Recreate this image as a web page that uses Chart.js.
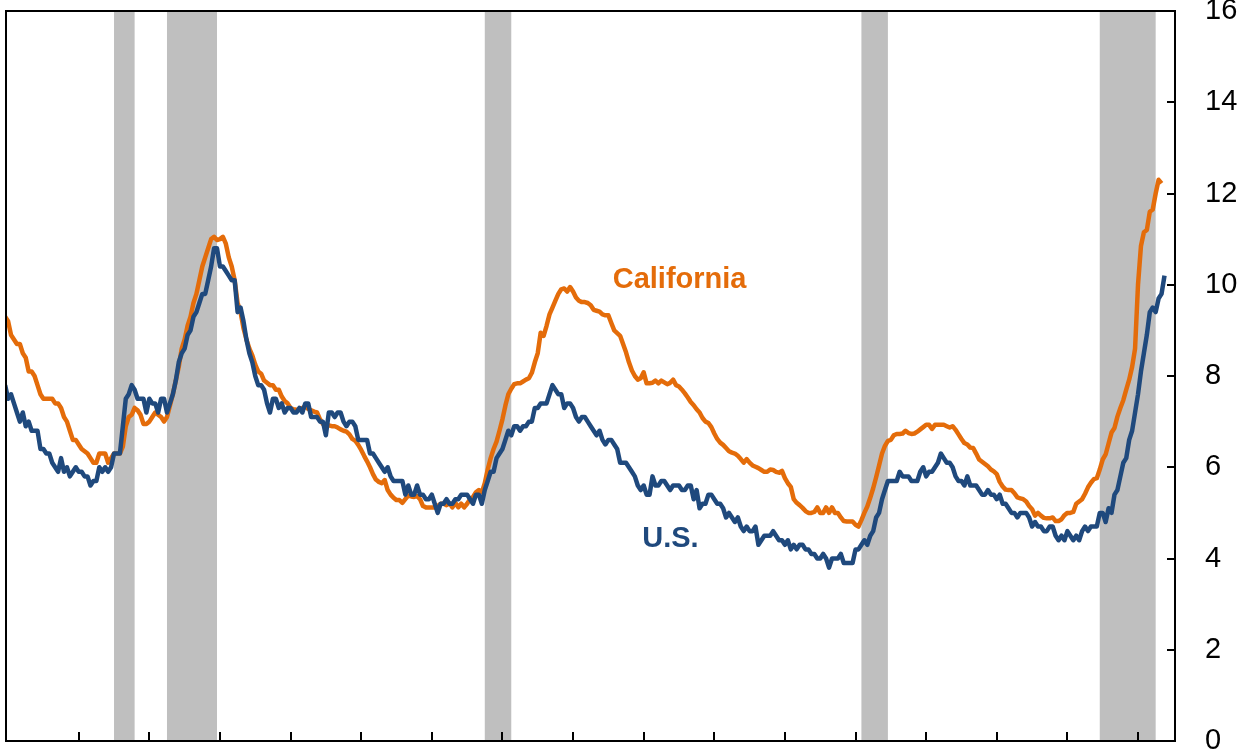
<!DOCTYPE html>
<html>
<head>
<meta charset="utf-8">
<script src="https://cdn.jsdelivr.net/npm/chart.js@4.4.1/dist/chart.umd.min.js"></script>
<style>
  html, body { margin: 0; padding: 0; background: #fff; }
</style>
</head>
<body>
<canvas id="chart" width="1241" height="750"></canvas>
<script>
"use strict";

//---------------- data -----------------------------------------------
// monthly unemployment rate, %, first value is Dec 1976
const firstMonth = "1976-12";

const usRate = [
  7.8,
  7.5, 7.6, 7.4, 7.2, 7.0, 7.2, 6.9, 7.0, 6.8, 6.8, 6.8, 6.4, // 1977
  6.4, 6.3, 6.3, 6.1, 6.0, 5.9, 6.2, 5.9, 6.0, 5.8, 5.9, 6.0, // 1978
  5.9, 5.9, 5.8, 5.8, 5.6, 5.7, 5.7, 6.0, 5.9, 6.0, 5.9, 6.0, // 1979
  6.3, 6.3, 6.3, 6.9, 7.5, 7.6, 7.8, 7.7, 7.5, 7.5, 7.5, 7.2, // 1980
  7.5, 7.4, 7.4, 7.2, 7.5, 7.5, 7.2, 7.4, 7.6, 7.9, 8.3, 8.5, // 1981
  8.6, 8.9, 9.0, 9.3, 9.4, 9.6, 9.8, 9.8, 10.1, 10.4, 10.8, 10.8, // 1982
  10.4, 10.4, 10.3, 10.2, 10.1, 10.1, 9.4, 9.5, 9.2, 8.8, 8.5, 8.3, // 1983
  8.0, 7.8, 7.8, 7.7, 7.4, 7.2, 7.5, 7.5, 7.3, 7.4, 7.2, 7.3, // 1984
  7.3, 7.2, 7.2, 7.3, 7.2, 7.4, 7.4, 7.1, 7.1, 7.1, 7.0, 7.0, // 1985
  6.7, 7.2, 7.2, 7.1, 7.2, 7.2, 7.0, 6.9, 7.0, 7.0, 6.9, 6.6, // 1986
  6.6, 6.6, 6.6, 6.3, 6.3, 6.2, 6.1, 6.0, 5.9, 6.0, 5.8, 5.7, // 1987
  5.7, 5.7, 5.7, 5.4, 5.6, 5.4, 5.4, 5.6, 5.4, 5.4, 5.3, 5.3, // 1988
  5.4, 5.2, 5.0, 5.2, 5.2, 5.3, 5.2, 5.2, 5.3, 5.3, 5.4, 5.4, // 1989
  5.4, 5.3, 5.2, 5.4, 5.4, 5.2, 5.5, 5.7, 5.9, 5.9, 6.2, 6.3, // 1990
  6.4, 6.6, 6.8, 6.7, 6.9, 6.9, 6.8, 6.9, 6.9, 7.0, 7.0, 7.3, // 1991
  7.3, 7.4, 7.4, 7.4, 7.6, 7.8, 7.7, 7.6, 7.6, 7.3, 7.4, 7.4, // 1992
  7.3, 7.1, 7.0, 7.1, 7.1, 7.0, 6.9, 6.8, 6.7, 6.8, 6.6, 6.5, // 1993
  6.6, 6.6, 6.5, 6.4, 6.1, 6.1, 6.1, 6.0, 5.9, 5.8, 5.6, 5.5, // 1994
  5.6, 5.4, 5.4, 5.8, 5.6, 5.6, 5.7, 5.7, 5.6, 5.5, 5.6, 5.6, // 1995
  5.6, 5.5, 5.5, 5.6, 5.6, 5.3, 5.5, 5.1, 5.2, 5.2, 5.4, 5.4, // 1996
  5.3, 5.2, 5.2, 5.1, 4.9, 5.0, 4.9, 4.8, 4.9, 4.7, 4.6, 4.7, // 1997
  4.6, 4.6, 4.7, 4.3, 4.4, 4.5, 4.5, 4.5, 4.6, 4.5, 4.4, 4.4, // 1998
  4.3, 4.4, 4.2, 4.3, 4.2, 4.3, 4.3, 4.2, 4.2, 4.1, 4.1, 4.0, // 1999
  4.0, 4.1, 4.0, 3.8, 4.0, 4.0, 4.0, 4.1, 3.9, 3.9, 3.9, 3.9, // 2000
  4.2, 4.2, 4.3, 4.4, 4.3, 4.5, 4.6, 4.9, 5.0, 5.3, 5.5, 5.7, // 2001
  5.7, 5.7, 5.7, 5.9, 5.8, 5.8, 5.8, 5.7, 5.7, 5.7, 5.9, 6.0, // 2002
  5.8, 5.9, 5.9, 6.0, 6.1, 6.3, 6.2, 6.1, 6.1, 6.0, 5.8, 5.7, // 2003
  5.7, 5.6, 5.8, 5.6, 5.6, 5.6, 5.5, 5.4, 5.4, 5.5, 5.4, 5.4, // 2004
  5.3, 5.4, 5.2, 5.2, 5.1, 5.0, 5.0, 4.9, 5.0, 5.0, 5.0, 4.9, // 2005
  4.7, 4.8, 4.7, 4.7, 4.6, 4.6, 4.7, 4.7, 4.5, 4.4, 4.5, 4.4, // 2006
  4.6, 4.5, 4.4, 4.5, 4.4, 4.6, 4.7, 4.6, 4.7, 4.7, 4.7, 5.0, // 2007
  5.0, 4.8, 5.1, 5.0, 5.4, 5.5, 5.8, 6.1, 6.2, 6.6, 6.8, 7.2, // 2008
  7.6, 8.1, 8.5, 8.9, 9.4, 9.5, 9.4, 9.7, 9.8, 10.2            // 2009
];

const caRate = [
  9.3,
  9.2, 8.9, 8.8, 8.7, 8.7, 8.5, 8.4, 8.1, 8.1, 8.0, 7.8, 7.6, // 1977
  7.5, 7.5, 7.5, 7.5, 7.4, 7.4, 7.3, 7.1, 7.0, 6.8, 6.6, 6.6, // 1978
  6.5, 6.4, 6.35, 6.3, 6.2, 6.1, 6.1, 6.3, 6.3, 6.3, 6.1, 6.2, // 1979
  6.3, 6.3, 6.3, 6.45, 6.9, 7.1, 7.15, 7.3, 7.25, 7.15, 6.95, 6.95, // 1980
  7.0, 7.1, 7.2, 7.15, 7.1, 7.0, 7.1, 7.35, 7.6, 7.9, 8.2, 8.6, // 1981
  8.8, 9.1, 9.3, 9.6, 9.8, 10.1, 10.4, 10.6, 10.8, 11.0, 11.05, 10.98, // 1982
  11.0, 11.05, 10.9, 10.6, 10.4, 10.1, 9.6, 9.4, 9.05, 8.8, 8.6, 8.45, // 1983
  8.25, 8.1, 8.05, 7.9, 7.85, 7.8, 7.8, 7.7, 7.7, 7.55, 7.45, 7.4, // 1984
  7.3, 7.27, 7.26, 7.26, 7.3, 7.33, 7.28, 7.25, 7.22, 7.2, 7.05, 6.95, // 1985
  6.93, 6.92, 6.9, 6.9, 6.87, 6.83, 6.8, 6.78, 6.72, 6.62, 6.58, 6.49, // 1986
  6.38, 6.25, 6.13, 6.0, 5.85, 5.73, 5.68, 5.65, 5.72, 5.5, 5.4, 5.33, // 1987
  5.28, 5.28, 5.22, 5.3, 5.38, 5.36, 5.35, 5.37, 5.3, 5.15, 5.12, 5.12, // 1988
  5.12, 5.12, 5.15, 5.2, 5.2, 5.17, 5.21, 5.12, 5.22, 5.12, 5.2, 5.12, // 1989
  5.2, 5.3, 5.35, 5.45, 5.5, 5.45, 5.65, 5.95, 6.2, 6.4, 6.56, 6.8, // 1990
  7.05, 7.35, 7.6, 7.72, 7.82, 7.84, 7.84, 7.88, 7.92, 7.95, 8.07, 8.3, // 1991
  8.5, 8.95, 8.88, 9.1, 9.35, 9.5, 9.65, 9.8, 9.9, 9.92, 9.85, 9.95, // 1992
  9.85, 9.72, 9.65, 9.62, 9.62, 9.6, 9.55, 9.45, 9.43, 9.41, 9.35, 9.33, // 1993
  9.33, 9.16, 9.0, 8.94, 8.88, 8.7, 8.52, 8.3, 8.12, 8.0, 7.92, 7.95, // 1994
  8.08, 7.84, 7.84, 7.85, 7.9, 7.84, 7.9, 7.86, 7.82, 7.85, 7.92, 7.8, // 1995
  7.77, 7.7, 7.62, 7.53, 7.43, 7.36, 7.27, 7.2, 7.08, 7.0, 6.97, 6.88, // 1996
  6.74, 6.62, 6.54, 6.49, 6.42, 6.35, 6.32, 6.3, 6.25, 6.18, 6.1, 6.18, // 1997
  6.1, 6.04, 6.01, 5.98, 5.94, 5.9, 5.9, 5.95, 5.94, 5.9, 5.88, 5.92, // 1998
  5.76, 5.65, 5.57, 5.3, 5.22, 5.17, 5.11, 5.04, 5.0, 5.0, 5.02, 5.12, // 1999
  5.0, 5.0, 5.12, 5.0, 5.12, 5.0, 5.0, 4.9, 4.82, 4.81, 4.81, 4.81, // 2000
  4.74, 4.7, 4.84, 5.0, 5.14, 5.33, 5.54, 5.78, 6.04, 6.3, 6.47, 6.58, // 2001
  6.6, 6.7, 6.73, 6.73, 6.74, 6.8, 6.75, 6.73, 6.74, 6.78, 6.83, 6.88, // 2002
  6.93, 6.93, 6.84, 6.93, 6.93, 6.93, 6.93, 6.9, 6.87, 6.9, 6.82, 6.72, // 2003
  6.62, 6.53, 6.5, 6.43, 6.42, 6.3, 6.17, 6.12, 6.07, 6.02, 5.95, 5.91, // 2004
  5.85, 5.68, 5.58, 5.51, 5.5, 5.5, 5.43, 5.34, 5.32, 5.3, 5.25, 5.15, // 2005
  5.08, 4.94, 5.0, 4.94, 4.89, 4.88, 4.88, 4.9, 4.82, 4.82, 4.86, 4.95, // 2006
  5.0, 5.0, 5.02, 5.2, 5.25, 5.3, 5.42, 5.56, 5.66, 5.74, 5.76, 5.95, // 2007
  6.17, 6.28, 6.52, 6.76, 6.86, 7.11, 7.3, 7.47, 7.7, 7.92, 8.2, 8.6, // 2008
  10.0, 10.85, 11.15, 11.2, 11.6, 11.65, 12.0, 12.3, 12.22           // 2009
];

// NBER recessions, first and last month
const recStart = ["1980-01", "1981-07", "1990-07", "2001-03", "2007-12"];
const recEnd   = ["1980-07", "1982-11", "1991-03", "2001-11", "2009-06"];

// x tick marks (January of these years), y tick labels
const tickYears = [1979, 1981, 1983, 1985, 1987, 1989, 1991, 1993, 1995,
                   1997, 1999, 2001, 2003, 2005, 2007, 2009];
const yTicks = [0, 2, 4, 6, 8, 10, 12, 14, 16];

const seriesNames = ["U.S.", "California"];

//---------------- helpers ----------------------------------------------
// months counted from Jan 1977
function monthIndex(s) {
  let parts = s.split("-");
  return (Number(parts[0]) - 1977) * 12 + Number(parts[1]) - 1;
}

let start = monthIndex(firstMonth);
let months = usRate.map((v, k) => start + k);

const orange = "#E46C0A";
const blue = "#1F497D";
const fontFamily = "'Liberation Sans', Arial, sans-serif";

//---------------- custom drawing ---------------------------------------
const chartFrame = {
  id: "chartFrame",
  beforeDatasetsDraw(chart) {
    let { ctx, chartArea: a, scales: { x } } = chart;
    ctx.save();
    ctx.fillStyle = "#BFBFBF";
    for (let k = 0; k < recStart.length; k++) {
      let x0 = x.getPixelForValue(monthIndex(recStart[k]));
      let x1 = x.getPixelForValue(monthIndex(recEnd[k]) + 1);
      ctx.fillRect(x0, a.top, x1 - x0, a.bottom - a.top);
    }
    ctx.restore();
  },
  afterDatasetsDraw(chart) {
    let { ctx, chartArea: a, scales: { x, y } } = chart;
    ctx.save();
    ctx.strokeStyle = "#000";
    ctx.lineWidth = 2;
    ctx.strokeRect(a.left, a.top, a.right - a.left, a.bottom - a.top);

    ctx.beginPath();
    // bottom ticks, pointing up
    for (let yr of tickYears) {
      let px = Math.round(x.getPixelForValue(monthIndex(yr + "-01")));
      ctx.moveTo(px, a.bottom);
      ctx.lineTo(px, a.bottom - 9);
    }
    // right ticks, pointing left
    for (let v of yTicks) {
      let py = Math.round(y.getPixelForValue(v));
      ctx.moveTo(a.right, py);
      ctx.lineTo(a.right - 8, py);
    }
    ctx.stroke();

    // series labels
    ctx.font = "bold 29px " + fontFamily;
    ctx.textAlign = "center";
    ctx.textBaseline = "alphabetic";
    ctx.fillStyle = orange;
    ctx.fillText(seriesNames[1], x.getPixelForValue(228.2), y.getPixelForValue(9.92));
    ctx.fillStyle = blue;
    ctx.fillText(seriesNames[0], x.getPixelForValue(225.1), y.getPixelForValue(4.26));
    ctx.restore();
  }
};

//---------------- chart ------------------------------------------------
new Chart(document.getElementById("chart"), {
  type: "line",
  data: {
    labels: months,
    datasets: [{
      label: seriesNames[0],
      data: usRate,
      borderColor: blue
    }, {
      label: seriesNames[1],
      data: caRate,
      borderColor: orange
    }]
  },
  options: {
    responsive: false,
    animation: false,
    layout: { padding: { left: 6, top: 11, bottom: 9, right: 0 } },
    plugins: {
      legend: { display: false },
      tooltip: { enabled: false }
    },
    elements: {
      point: { radius: 0 },
      line: { borderWidth: 4.5, tension: 0, borderJoinStyle: "round" }
    },
    scales: {
      x: {
        type: "linear",
        display: false,
        min: -0.71,
        max: 396.57
      },
      y: {
        position: "right",
        min: 0,
        max: 16,
        afterFit(scale) {
          scale.width = 66;
          scale.paddingTop = 0;
          scale.paddingBottom = 0;
        },
        afterBuildTicks(scale) {
          scale.ticks = yTicks.map(v => ({ value: v }));
        },
        grid: { display: false },
        border: { display: false },
        ticks: {
          padding: 22,
          color: "#000",
          font: { family: fontFamily, size: 29 }
        }
      }
    }
  },
  plugins: [chartFrame]
});
</script>
</body>
</html>
